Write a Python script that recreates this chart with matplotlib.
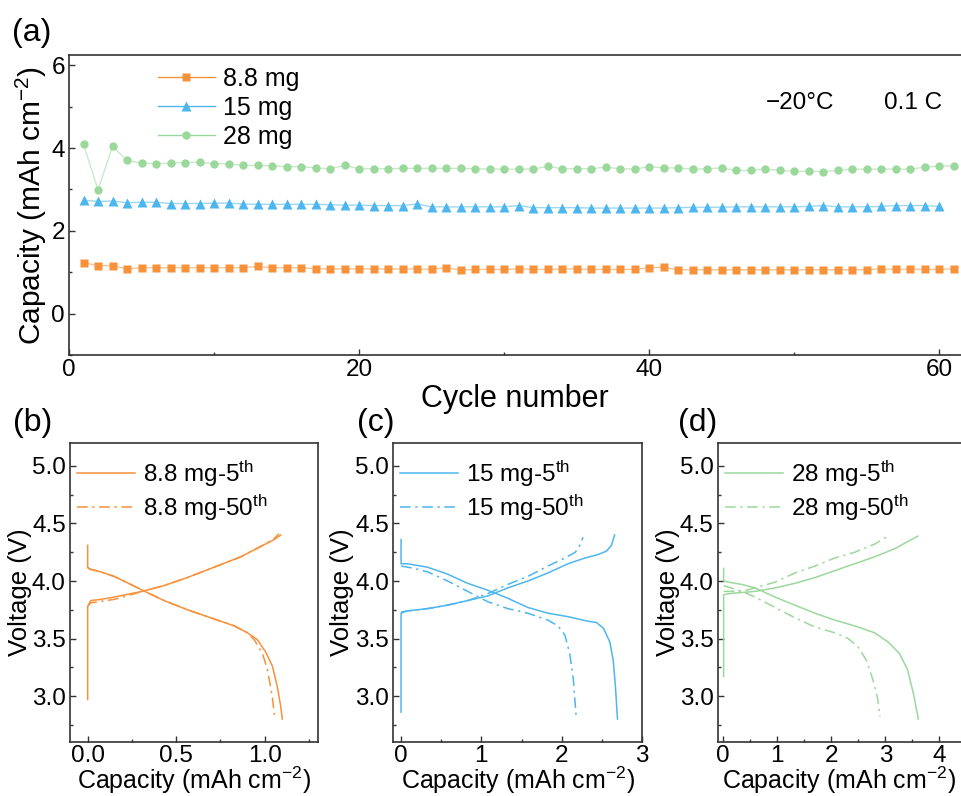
import matplotlib
matplotlib.use("Agg")
import matplotlib.pyplot as plt
from matplotlib.ticker import MultipleLocator, FormatStrFormatter
from matplotlib.lines import Line2D

plt.rcParams['font.family'] = ['Liberation Sans', 'DejaVu Sans']
plt.rcParams['mathtext.fontset'] = 'custom'
plt.rcParams['mathtext.rm'] = 'Liberation Sans'
plt.rcParams['mathtext.it'] = 'Liberation Sans:italic'
plt.rcParams['mathtext.bf'] = 'Liberation Sans:bold'

# ---------------- data: panel (a) cycling ----------------
cap_88 = [1.23, 1.16, 1.16, 1.08, 1.11, 1.11, 1.11, 1.11, 1.11, 1.11,
          1.11, 1.11, 1.14, 1.11, 1.11, 1.11, 1.08, 1.08, 1.08, 1.08,
          1.08, 1.08, 1.08, 1.08, 1.07, 1.11, 1.05, 1.07, 1.07, 1.07,
          1.08, 1.07, 1.07, 1.08, 1.08, 1.07, 1.07, 1.07, 1.07, 1.11,
          1.12, 1.06, 1.06, 1.06, 1.06, 1.06, 1.06, 1.06, 1.06, 1.06,
          1.06, 1.06, 1.06, 1.06, 1.06, 1.08, 1.07, 1.08, 1.07, 1.07,
          1.08]
cap_15 = [2.74, 2.71, 2.72, 2.68, 2.69, 2.69, 2.66, 2.66, 2.66, 2.67,
          2.67, 2.65, 2.64, 2.64, 2.64, 2.64, 2.64, 2.63, 2.62, 2.62,
          2.61, 2.61, 2.61, 2.65, 2.58, 2.58, 2.58, 2.58, 2.58, 2.58,
          2.61, 2.56, 2.56, 2.56, 2.56, 2.55, 2.55, 2.55, 2.55, 2.55,
          2.55, 2.56, 2.57, 2.57, 2.57, 2.58, 2.58, 2.58, 2.58, 2.58,
          2.59, 2.61, 2.58, 2.58, 2.58, 2.59, 2.61, 2.61, 2.61, 2.59]
cap_28 = [4.09, 2.99, 4.04, 3.70, 3.64, 3.62, 3.64, 3.65, 3.66, 3.62,
          3.62, 3.58, 3.58, 3.57, 3.55, 3.55, 3.52, 3.50, 3.58, 3.50,
          3.50, 3.50, 3.51, 3.51, 3.51, 3.51, 3.51, 3.50, 3.49, 3.49,
          3.49, 3.49, 3.56, 3.50, 3.50, 3.50, 3.54, 3.50, 3.49, 3.55,
          3.52, 3.52, 3.49, 3.50, 3.52, 3.46, 3.46, 3.49, 3.46, 3.44,
          3.44, 3.43, 3.46, 3.49, 3.49, 3.49, 3.49, 3.49, 3.54, 3.56,
          3.57]
cycles_88 = list(range(1, len(cap_88) + 1))
cycles_15 = list(range(1, len(cap_15) + 1))
cycles_28 = list(range(1, len(cap_28) + 1))

# ---------------- data: voltage profiles (capacity, voltage) ----------------
# 8.8 mg
b_ch5_c  = [0.0, 0.0, 0.017, 0.073, 0.149, 0.243, 0.309, 0.431, 0.563, 0.714, 0.864, 0.977, 1.053, 1.09]
b_ch5_v  = [2.97, 3.78, 3.83, 3.84, 3.86, 3.89, 3.91, 3.96, 4.03, 4.12, 4.21, 4.30, 4.36, 4.40]
b_dc5_c  = [0.0, 0.0, 0.017, 0.073, 0.149, 0.243, 0.309, 0.431, 0.563, 0.714, 0.827, 0.902, 0.958, 1.006, 1.043, 1.071, 1.09, 1.099]
b_dc5_v  = [4.31, 4.12, 4.10, 4.08, 4.04, 3.97, 3.92, 3.83, 3.75, 3.67, 3.61, 3.55, 3.49, 3.38, 3.26, 3.08, 2.91, 2.80]
b_ch50_c = [0.0, 0.017, 0.149, 0.243, 0.309, 0.431, 0.563, 0.714, 0.864, 0.977, 1.053, 1.08]
b_ch50_v = [3.78, 3.81, 3.84, 3.88, 3.91, 3.96, 4.03, 4.12, 4.21, 4.30, 4.37, 4.41]
b_dc50_c = [0.0, 0.073, 0.149, 0.243, 0.309, 0.431, 0.563, 0.714, 0.827, 0.902, 0.94, 0.987, 1.015, 1.043, 1.056]
b_dc50_v = [4.11, 4.08, 4.04, 3.97, 3.92, 3.83, 3.75, 3.67, 3.61, 3.55, 3.49, 3.37, 3.23, 2.99, 2.80]
# 15 mg
c_ch5_c  = [0.0, 0.0, 0.079, 0.329, 0.579, 0.829, 1.079, 1.329, 1.579, 1.829, 2.079, 2.29, 2.454, 2.558, 2.62, 2.66]
c_ch5_v  = [2.86, 3.72, 3.74, 3.76, 3.79, 3.83, 3.87, 3.94, 4.00, 4.07, 4.15, 4.20, 4.23, 4.26, 4.31, 4.40]
c_dc5_c  = [0.0, 0.0, 0.079, 0.329, 0.579, 0.829, 1.079, 1.329, 1.579, 1.829, 2.079, 2.329, 2.43, 2.52, 2.60, 2.642, 2.67, 2.695]
c_dc5_v  = [4.36, 4.15, 4.15, 4.12, 4.06, 3.98, 3.92, 3.85, 3.77, 3.72, 3.69, 3.65, 3.64, 3.59, 3.47, 3.31, 3.08, 2.80]
c_ch50_c = [0.0, 0.079, 0.329, 0.579, 0.829, 1.079, 1.329, 1.579, 1.829, 2.04, 2.17, 2.225, 2.267]
c_ch50_v = [3.73, 3.74, 3.76, 3.79, 3.83, 3.89, 3.97, 4.04, 4.13, 4.20, 4.25, 4.31, 4.38]
c_dc50_c = [0.0, 0.163, 0.329, 0.579, 0.829, 1.079, 1.329, 1.579, 1.829, 1.954, 2.04, 2.10, 2.146, 2.183]
c_dc50_v = [4.13, 4.11, 4.08, 4.00, 3.91, 3.82, 3.76, 3.72, 3.66, 3.61, 3.53, 3.37, 3.14, 2.80]
# 28 mg
d_ch5_c  = [0.006, 0.006, 0.098, 0.344, 0.59, 0.959, 1.327, 1.696, 2.064, 2.433, 2.8, 3.17, 3.6]
d_ch5_v  = [3.17, 3.88, 3.89, 3.90, 3.91, 3.94, 3.98, 4.03, 4.09, 4.15, 4.21, 4.28, 4.39]
d_dc5_c  = [0.006, 0.006, 0.098, 0.344, 0.59, 0.959, 1.327, 1.696, 2.064, 2.433, 2.8, 3.05, 3.26, 3.41, 3.52, 3.61]
d_dc5_v  = [4.11, 4.00, 3.99, 3.97, 3.94, 3.86, 3.79, 3.72, 3.66, 3.61, 3.55, 3.47, 3.37, 3.23, 3.02, 2.80]
d_ch50_c = [0.006, 0.344, 0.59, 0.959, 1.327, 1.696, 2.064, 2.433, 2.8, 3.08]
d_ch50_v = [3.91, 3.91, 3.94, 3.99, 4.07, 4.13, 4.20, 4.25, 4.32, 4.40]
d_dc50_c = [0.006, 0.344, 0.59, 0.959, 1.327, 1.696, 2.064, 2.31, 2.49, 2.65, 2.77, 2.86, 2.90]
d_dc50_v = [3.96, 3.91, 3.86, 3.77, 3.68, 3.60, 3.55, 3.50, 3.43, 3.31, 3.14, 2.97, 2.82]

ORANGE = '#F7923A'
BLUE = '#4DB6EE'
GREEN = '#9BD89B'
SPINE = '#333333'
TICK_FS = 17.5

fig = plt.figure(figsize=(9.61, 7.96), dpi=100)

def style_axes(ax, right_spine=True):
    for s in ax.spines.values():
        s.set_color(SPINE)
        s.set_linewidth(1.2)
    if not right_spine:
        ax.spines['right'].set_visible(False)
    ax.tick_params(which='both', direction='in', colors=SPINE,
                   labelcolor='black', top=False, right=False)
    ax.tick_params(which='major', length=4, width=1.0, labelsize=TICK_FS, pad=3)
    ax.tick_params(which='minor', length=2.5, width=1.0)

# ---------- panel (a) ----------
axa = fig.add_axes([0.0718, 0.554, 0.9282, 0.377])
axa.plot(cycles_88, cap_88, '-', color=ORANGE, lw=1.0, alpha=0.55)
axa.plot(cycles_88, cap_88, 's', color=ORANGE, ms=5.5, mec='none')
axa.plot(cycles_15, cap_15, '-', color=BLUE, lw=1.0, alpha=0.55)
axa.plot(cycles_15, cap_15, '^', color=BLUE, ms=6.5, mec='none')
axa.plot(cycles_28, cap_28, '-', color=GREEN, lw=1.0, alpha=0.55)
axa.plot(cycles_28, cap_28, 'o', color=GREEN, ms=6, mec='none')
axa.set_xlim(0, 61.5)
axa.set_ylim(-1.0, 6.25)
axa.xaxis.set_major_locator(MultipleLocator(20))
axa.xaxis.set_minor_locator(MultipleLocator(10))
axa.yaxis.set_major_locator(MultipleLocator(2))
axa.yaxis.set_minor_locator(MultipleLocator(1))
style_axes(axa, right_spine=False)
axa.set_xlabel('Cycle number', fontsize=22, labelpad=2)
axa.set_ylabel('Capacity (mAh cm$^{-2}$)', fontsize=21.5)
axa.yaxis.set_label_coords(-0.022, 0.5)
handles = [
    Line2D([], [], color=ORANGE, lw=1.0, marker='s', ms=5.5, mfc=ORANGE, mec='none'),
    Line2D([], [], color=BLUE, lw=1.0, marker='^', ms=6.5, mfc=BLUE, mec='none'),
    Line2D([], [], color=GREEN, lw=1.0, marker='o', ms=6, mfc=GREEN, mec='none'),
]
axa.legend(handles, ['8.8 mg', '15 mg', '28 mg'], loc='upper left',
           bbox_to_anchor=(0.074, 1.035), frameon=False, fontsize=18,
           handlelength=2.3, handletextpad=0.3, labelspacing=0.2)
axa.text(0.82, 0.84, '\u221220\u00b0C', transform=axa.transAxes,
         fontsize=17.5, ha='center', va='center')
axa.text(0.946, 0.84, '0.1 C', transform=axa.transAxes,
         fontsize=17.5, ha='center', va='center')
fig.text(0.012, 0.978, '(a)', fontsize=23, ha='left', va='top')

# ---------- panels (b), (c), (d) ----------
bottom, height = 0.0678, 0.3757
panels = [
    ([0.0728, bottom, 0.258, height], ORANGE, '8.8 mg',
     (b_ch5_c, b_ch5_v, b_dc5_c, b_dc5_v, b_ch50_c, b_ch50_v, b_dc50_c, b_dc50_v),
     (-0.1, 1.3), 0.5, 0.25, True, '(b)', 0.014),
    ([0.409, bottom, 0.259, height], BLUE, '15 mg',
     (c_ch5_c, c_ch5_v, c_dc5_c, c_dc5_v, c_ch50_c, c_ch50_v, c_dc50_c, c_dc50_v),
     (-0.1, 3.0), 1, 0.5, True, '(c)', 0.372),
    ([0.747, bottom, 0.253, height], GREEN, '28 mg',
     (d_ch5_c, d_ch5_v, d_dc5_c, d_dc5_v, d_ch50_c, d_ch50_v, d_dc50_c, d_dc50_v),
     (-0.1, 4.4), 1, 0.5, False, '(d)', 0.706),
]
DASHDOT = (0, (7, 3, 1.5, 3))
for rect, col, name, curves, xlim, maj, mnr, rsp, lab, labx in panels:
    ax = fig.add_axes(rect)
    ch5c, ch5v, dc5c, dc5v, ch50c, ch50v, dc50c, dc50v = curves
    ax.plot(ch5c, ch5v, '-', color=col, lw=1.1, label=name + '-5$^{\\mathrm{th}}$')
    ax.plot(dc5c, dc5v, '-', color=col, lw=1.1)
    ax.plot(ch50c, ch50v, color=col, lw=1.1, ls=DASHDOT,
            label=name + '-50$^{\\mathrm{th}}$')
    ax.plot(dc50c, dc50v, color=col, lw=1.1, ls=DASHDOT)
    ax.set_xlim(*xlim)
    ax.set_ylim(2.6, 5.2)
    ax.xaxis.set_major_locator(MultipleLocator(maj))
    ax.xaxis.set_minor_locator(MultipleLocator(mnr))
    ax.yaxis.set_major_locator(MultipleLocator(0.5))
    ax.yaxis.set_minor_locator(MultipleLocator(0.25))
    ax.yaxis.set_major_formatter(FormatStrFormatter('%.1f'))
    if maj == 0.5:
        ax.xaxis.set_major_formatter(FormatStrFormatter('%.1f'))
    style_axes(ax, right_spine=rsp)
    ax.tick_params(axis='x', which='major', pad=2)
    ax.set_xlabel('Capacity (mAh cm$^{-2}$)', fontsize=18, labelpad=-1.5)
    ax.set_ylabel('Voltage (V)', fontsize=18.5)
    ax.yaxis.set_label_coords(-0.155, 0.5)
    ax.legend(loc='upper left', bbox_to_anchor=(-0.06, 1.02), frameon=False,
              fontsize=17.5, handlelength=2.4, handletextpad=0.3,
              labelspacing=0.15)
    fig.text(labx, 0.487, lab, fontsize=23, ha='left', va='top')

fig.savefig('out.png', dpi=100)
